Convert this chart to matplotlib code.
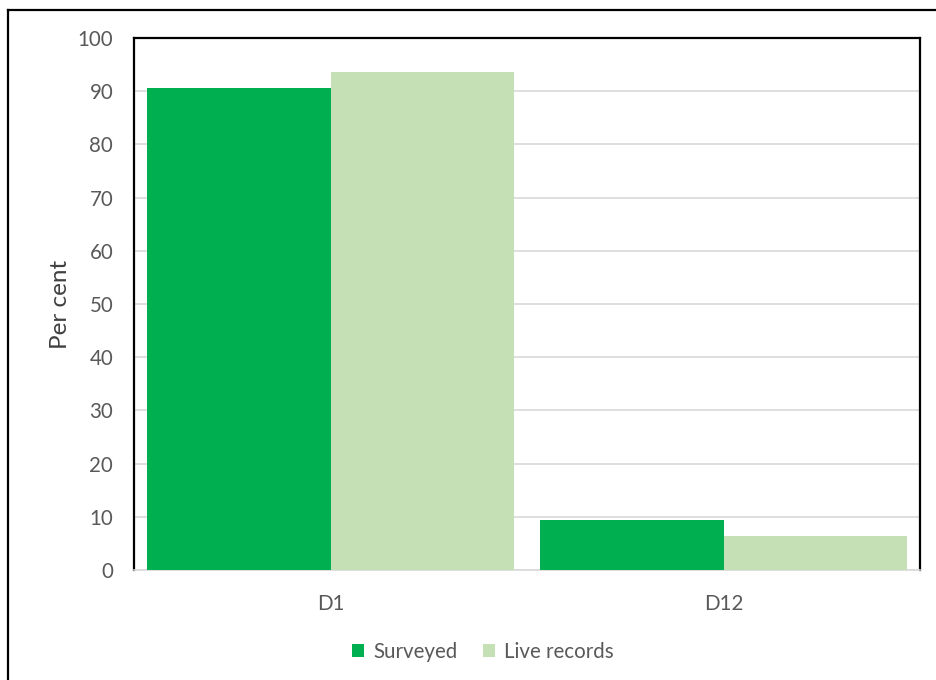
import matplotlib
matplotlib.use("Agg")
import matplotlib.pyplot as plt
from matplotlib.lines import Line2D
from matplotlib.patches import Patch
import numpy as np

plt.rcParams['font.family'] = ['Lato', 'DejaVu Sans']

categories = ["D1", "D12"]
surveyed = [90.6, 9.4]
live_records = [93.6, 6.4]
series_names = ["Surveyed", "Live records"]
yticks = [0, 10, 20, 30, 40, 50, 60, 70, 80, 90, 100]

c_surveyed = "#00B050"
c_live = "#C5E0B4"
tick_color = "#595959"

fig = plt.figure(figsize=(9.36, 6.8), dpi=100)
ax = fig.add_axes([134/936, 1 - 570/680, (920 - 134)/936, (570 - 38)/680])

x = np.arange(len(categories))
w = 0.466
ax.bar(x - w/2, surveyed, width=w, color=c_surveyed, zorder=3)
ax.bar(x + w/2, live_records, width=w, color=c_live, zorder=3)

ax.set_xlim(-0.5, 1.5)
ax.set_ylim(0, 100)
ax.set_yticks(yticks)
ax.set_xticks(x)
ax.set_xticklabels(categories)
ax.yaxis.grid(True, color="#D9D9D9", linewidth=1.2, zorder=0)
ax.set_axisbelow(True)

ax.tick_params(axis='both', length=0, labelsize=14.8, colors=tick_color)
ax.tick_params(axis='y', pad=15)
ax.tick_params(axis='x', pad=17)

for s in ["left", "top", "right"]:
    ax.spines[s].set_color("black")
    ax.spines[s].set_linewidth(1.6)
ax.spines["bottom"].set_color("#D9D9D9")
ax.spines["bottom"].set_linewidth(1.2)

ax.set_ylabel("Per cent", fontsize=17.5, color="#404040", labelpad=5)

handles = [Patch(facecolor=c_surveyed, edgecolor="none"),
           Patch(facecolor=c_live, edgecolor="none")]
fig.legend(handles, series_names, loc="center", bbox_to_anchor=(483/936, 1 - 652/680),
           ncol=2, frameon=False, fontsize=14.8, labelcolor=tick_color,
           handlelength=0.6, handleheight=0.6, handletextpad=0.45, columnspacing=1.2)

# outer chart frame (left and top edges)
fig.add_artist(Line2D([8/936, 8/936], [0, 1 - 10/680], transform=fig.transFigure,
                      color="black", linewidth=1.6))
fig.add_artist(Line2D([8/936, 1], [1 - 10/680, 1 - 10/680], transform=fig.transFigure,
                      color="black", linewidth=1.6))

fig.savefig("out.png", dpi=100, facecolor="white")
